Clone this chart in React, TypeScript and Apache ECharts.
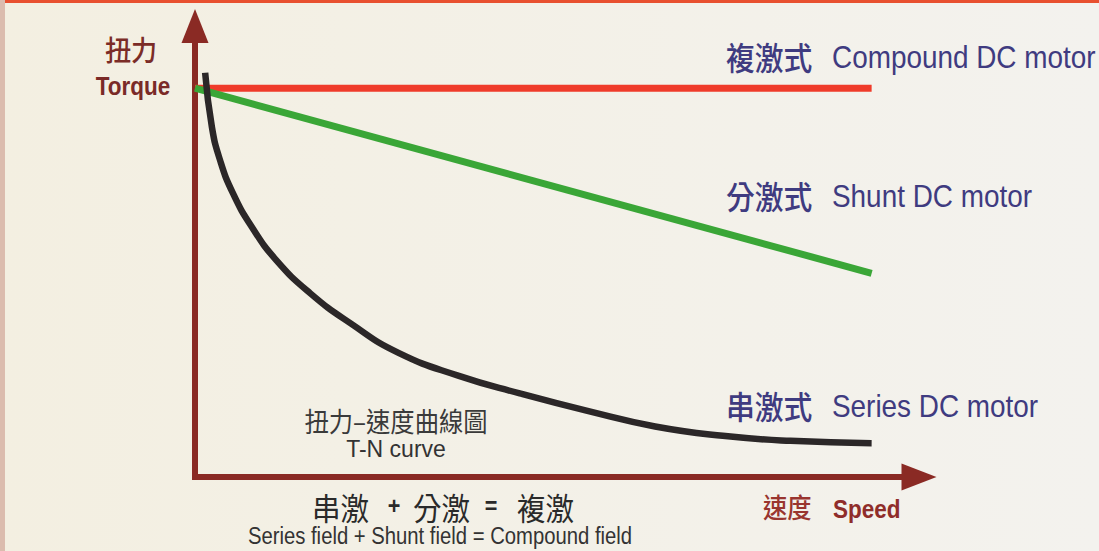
import React, { useEffect, useRef } from "react";
import * as echarts from "echarts";

// Compound DC motor: constant torque
const compoundX = [0, 100];
const compoundY = [100, 100];
// Shunt DC motor: linear drop
const shuntX = [0, 100];
const shuntY = [100, 52.4];
// Series DC motor: hyperbolic drop
const seriesX = [1.5, 2.5, 3.7, 5.6, 8.4, 12, 17, 23, 30, 39, 48, 58, 68, 78, 88, 100];
const seriesY = [104, 90, 81.5, 73, 64.3, 55.8, 47.3, 39.5, 32, 26, 21.5, 17, 13, 10.6, 9.3, 8.7];

const labelsRight = [
  { zh: "複激式", en: "Compound DC motor" },
  { zh: "分激式", en: "Shunt DC motor" },
  { zh: "串激式", en: "Series DC motor" },
];

const CJK = "'Noto Sans CJK TC', 'Noto Sans CJK SC', sans-serif";
const LAT = "'Liberation Sans', Arial, 'Noto Sans CJK TC', sans-serif";

function pairs(xs: number[], ys: number[]) {
  return xs.map((x, i) => [x, ys[i]]);
}

export default function App() {
  const ref = useRef<HTMLDivElement>(null);
  useEffect(() => {
    document.body.style.margin = "0";
    const chart = echarts.init(ref.current!, null, { renderer: "svg" });
    const blue = "#3f3b80";
    const axisRed = "#8a2a24";
    const rowY = [56, 195, 405];
    const txt = (
      text: string,
      x: number,
      y: number,
      size: number,
      color: string,
      font: string,
      align: string = "left",
      weight: string = "normal",
      scaleX: number = 0.9
    ) => ({
      type: "text",
      x,
      y,
      scaleX,
      z: 10,
      style: {
        text,
        fill: color,
        font: `${weight} ${size}px ${font}`,
        textAlign: align,
        textVerticalAlign: "middle",
      },
    });
    const graphics: any[] = [
      {
        type: "rect",
        z: -10,
        shape: { x: 0, y: 0, width: 1099, height: 551 },
        style: {
          fill: new echarts.graphic.LinearGradient(0, 0, 1, 0, [
            { offset: 0, color: "#f3efe1" },
            { offset: 1, color: "#f3f2ee" },
          ]),
        },
      },
      { type: "rect", z: -9, shape: { x: 0, y: 0, width: 1099, height: 3 }, style: { fill: "#e8502f" } },
      { type: "rect", z: -9, shape: { x: 0, y: 0, width: 5, height: 551 }, style: { fill: "#dbbcae" } },
      txt("扭力", 131, 48, 29, "#7b2c27", CJK, "center", "500"),
      txt("Torque", 133, 86, 25, "#7a2a27", LAT, "center", "bold"),
      txt("速度", 763, 506, 27, "#99352f", CJK, "left", "500"),
      txt("Speed", 833, 509, 25, "#8f2d2a", LAT, "left", "bold"),
      txt("扭力–速度曲線圖", 396, 420, 27, "#3a3a3a", CJK, "center"),
      txt("T-N curve", 396, 449, 23, "#333333", LAT, "center", "normal", 1),
      txt("串激", 312, 506, 31, "#2a2a2a", CJK, "left", "normal", 0.92),
      txt("+", 394, 506, 24, "#2a2a2a", LAT, "center", "bold", 0.9),
      txt("分激", 413, 506, 31, "#2a2a2a", CJK, "left", "normal", 0.92),
      txt("=", 491, 506, 24, "#2a2a2a", LAT, "center", "bold", 0.9),
      txt("複激", 517, 506, 31, "#2a2a2a", CJK, "left", "normal", 0.92),
      txt("Series field + Shunt field = Compound field", 440, 536, 24, "#333333", LAT, "center", "normal", 0.845),
    ];
    labelsRight.forEach((l, i) => {
      graphics.push(txt(l.zh, 726, rowY[i], 32, blue, CJK, "left", "500"));
      graphics.push(txt(l.en, 832, rowY[i] + 1, 31, blue, LAT, "left"));
    });

    chart.setOption({
      animation: false,
      backgroundColor: "#f3f0e5",
      grid: { left: 195, right: 180, top: 26, bottom: 74 },
      xAxis: {
        type: "value",
        min: 0,
        max: 107,
        axisLine: {
          show: true,
          symbol: ["none", "triangle"],
          symbolSize: [27, 35],
          lineStyle: { color: axisRed, width: 6, cap: "square" },
        },
        axisTick: { show: false },
        axisLabel: { show: false },
        splitLine: { show: false },
      },
      yAxis: {
        type: "value",
        min: 0,
        max: 116,
        axisLine: {
          show: true,
          symbol: ["none", "triangle"],
          symbolSize: [27, 34],
          lineStyle: { color: axisRed, width: 6, cap: "square" },
        },
        axisTick: { show: false },
        axisLabel: { show: false },
        splitLine: { show: false },
      },
      graphic: graphics,
      series: [
        {
          name: "Compound DC motor",
          type: "line",
          data: pairs(compoundX, compoundY),
          showSymbol: false,
          lineStyle: { color: "#ef3b2a", width: 7, cap: "butt" },
          z: 2,
        },
        {
          name: "Shunt DC motor",
          type: "line",
          data: pairs(shuntX, shuntY),
          showSymbol: false,
          lineStyle: { color: "#3aa637", width: 7, cap: "butt" },
          z: 3,
        },
        {
          name: "Series DC motor",
          type: "line",
          data: pairs(seriesX, seriesY),
          showSymbol: false,
          smooth: 0.5,
          lineStyle: { color: "#2b2728", width: 6.5, cap: "butt" },
          z: 4,
        },
      ],
    });
    return () => chart.dispose();
  }, []);
  return <div ref={ref} style={{ position: "absolute", left: 0, top: 0, width: 1099, height: 551 }} />;
}
